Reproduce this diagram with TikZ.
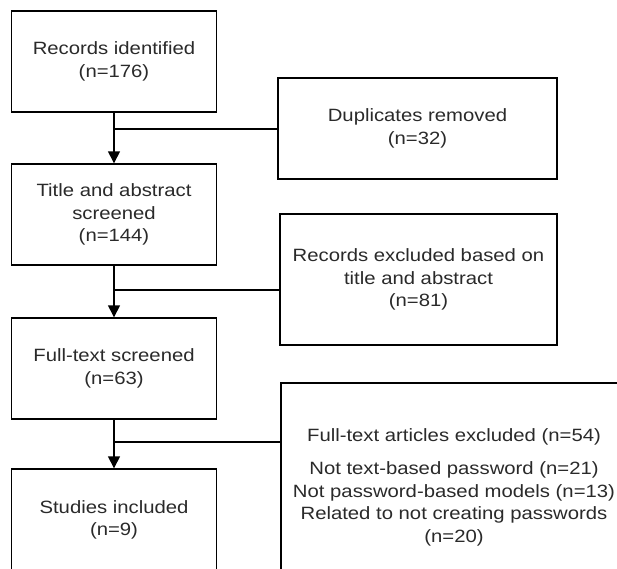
\documentclass[tikz,border=0pt]{standalone}
\usepackage{fontspec}
\setmainfont[FakeStretch=1.14]{Liberation Sans}
\usetikzlibrary{arrows.meta}
\definecolor{txt}{HTML}{2A2A2A}
\tikzset{
  box/.style={draw=black, line width=1.4pt, inner sep=0pt, align=center, text=txt,
    font=\fontsize{17.8}{22.5}\selectfont},
  link/.style={draw=black, line width=1.4pt},
  arr/.style={link, -{Triangle[length=12pt,width=12pt]}}
}
\begin{document}
\begin{tikzpicture}[x=1pt,y=-1pt]
\useasboundingbox (0,0) rectangle (617,568);
\clip (0,0) rectangle (617,568);
\fill[white] (0,0) rectangle (617,568);
\node[box, minimum width=205pt, minimum height=101pt] (b1) at (114,61.5) {Records identified\\(n=176)};
\node[box, minimum width=205pt, minimum height=101pt] (b2) at (114,214.5) {Title and abstract\\screened\\(n=144)};
\node[box, minimum width=205pt, minimum height=101pt] (b3) at (114,368.5) {Full-text screened\\(n=63)};
\node[box, minimum width=205pt, minimum height=102pt] (b4) at (114,520) {Studies included\\(n=9)};
\node[box, minimum width=279pt, minimum height=101pt] (r1) at (417.5,128.5) {Duplicates removed\\(n=32)};
\node[box, minimum width=277pt, minimum height=131pt] (r2) at (418.5,279.5) {Records excluded based on\\title and abstract\\(n=81)};
\node[box, minimum width=346pt, minimum height=208pt] (r3) at (454,487) {Full-text articles excluded (n=54)\\[11pt]Not text-based password (n=21)\\Not password-based models (n=13)\\Related to not creating passwords\\(n=20)};
\coordinate (j1) at (114,129);
\coordinate (j2) at (114,290);
\coordinate (j3) at (114,442);
\draw[arr] (b1.south) -- (b2.north);
\draw[arr] (b2.south) -- (b3.north);
\draw[arr] (b3.south) -- (b4.north);
\draw[link] (j1) -- (j1 -| r1.west);
\draw[link] (j2) -- (j2 -| r2.west);
\draw[link] (j3) -- (j3 -| r3.west);
\end{tikzpicture}
\end{document}
